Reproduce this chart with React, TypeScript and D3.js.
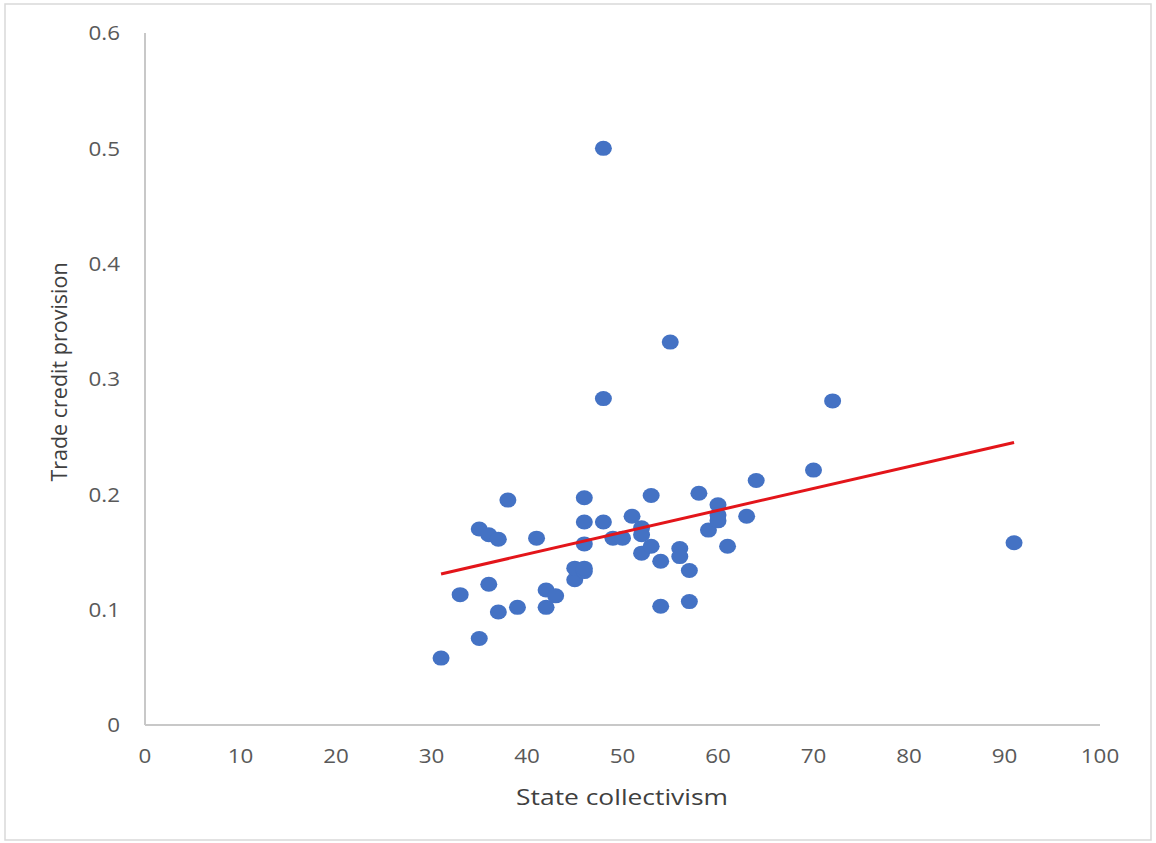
import React from 'react';
import * as d3 from 'd3';

// state collectivism (x) vs trade credit provision (y)
const collectivism = [
  31, 33, 35, 35, 36, 36, 37, 37, 38, 39, 41, 42, 42, 43, 45, 45, 46, 46, 46, 46,
  46, 48, 48, 48, 49, 50, 51, 52, 52, 52, 53, 53, 54, 54, 55, 56, 56, 57, 57, 58,
  59, 60, 60, 60, 61, 63, 64, 70, 72, 91,
];
const tradeCredit = [
  0.058, 0.113, 0.075, 0.170, 0.122, 0.165, 0.098, 0.161, 0.195, 0.102, 0.162, 0.102, 0.117, 0.112, 0.126, 0.136, 0.133, 0.157, 0.176, 0.197,
  0.136, 0.500, 0.283, 0.176, 0.162, 0.162, 0.181, 0.171, 0.165, 0.149, 0.199, 0.155, 0.142, 0.103, 0.332, 0.153, 0.146, 0.134, 0.107, 0.201,
  0.169, 0.191, 0.182, 0.177, 0.155, 0.181, 0.212, 0.221, 0.281, 0.158,
];

// linear trendline endpoints
const trendX = [31, 91];
const trendY = [0.131, 0.245];

const xTicks = [0, 10, 20, 30, 40, 50, 60, 70, 80, 90, 100];
const yTicks = [0, 0.1, 0.2, 0.3, 0.4, 0.5, 0.6];

const width = 1156;
const height = 843;
const font = '"Open Sans", "Liberation Sans", sans-serif';
// the original picture is a little wider than tall, text included
const stretch = 1.12;

export default function App() {
  const margin = { top: 33, right: 56, bottom: 118, left: 145 };

  const xScale = d3.scaleLinear().domain([0, 100]).range([margin.left, width - margin.right]);
  const yScale = d3.scaleLinear().domain([0, 0.6]).range([height - margin.bottom, margin.top]);

  const trendLine = d3.line<number>()
    .x((d) => xScale(d))
    .y((_, i) => yScale(trendY[i]));

  const points = collectivism.map((x, i) => ({ x, y: tradeCredit[i] }));

  return (
    <svg
      width={width}
      height={height}
      style={{ position: 'absolute', left: 0, top: 0, background: '#fff' }}
    >
      <rect x={5} y={4} width={1146} height={836} fill="#fff" stroke="#d9d9d9" strokeWidth={1.5} />

      {/* axes */}
      <line
        x1={xScale(0)} x2={xScale(0)} y1={yScale(0)} y2={yScale(0.6)}
        stroke="#c8c8c8" strokeWidth={2}
      />
      <line
        x1={xScale(0)} x2={xScale(100)} y1={yScale(0)} y2={yScale(0)}
        stroke="#c8c8c8" strokeWidth={2}
      />

      {yTicks.map((t) => (
        <text
          key={`y${t}`}
          transform={`translate(120, ${yScale(t)}) scale(${stretch}, 1)`}
          dy="0.36em"
          textAnchor="end"
          fontFamily={font}
          fontSize={20}
          fill="#595959"
        >
          {t === 0 ? '0' : d3.format('.1f')(t)}
        </text>
      ))}

      {xTicks.map((t) => (
        <text
          key={`x${t}`}
          transform={`translate(${xScale(t)}, 763) scale(${stretch}, 1)`}
          textAnchor="middle"
          fontFamily={font}
          fontSize={20}
          fill="#595959"
        >
          {t}
        </text>
      ))}

      <text
        transform={`translate(622, 805) scale(1.2, 1)`}
        textAnchor="middle"
        fontFamily={font}
        fontSize={22}
        fill="#404040"
      >
        State collectivism
      </text>
      <text
        transform="translate(67, 372) rotate(-90)"
        textAnchor="middle"
        fontFamily={font}
        fontSize={21.5}
        fill="#404040"
      >
        Trade credit provision
      </text>

      {points.map((d, i) => (
        <ellipse
          key={i}
          cx={xScale(d.x)}
          cy={yScale(d.y)}
          rx={8.5}
          ry={7.5}
          fill="#4472c4"
        />
      ))}

      <path d={trendLine(trendX) ?? ''} fill="none" stroke="#e3151a" strokeWidth={3} />
    </svg>
  );
}
